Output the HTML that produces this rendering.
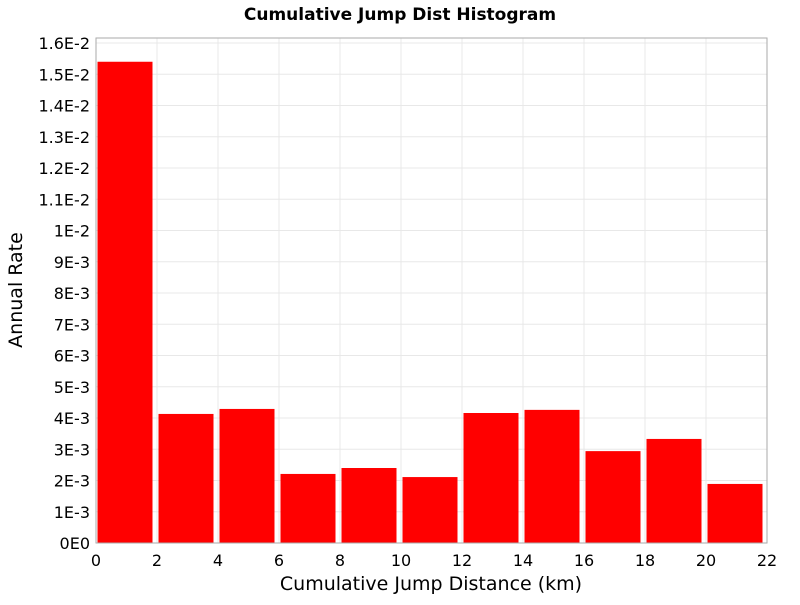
<!DOCTYPE html>
<html><head><meta charset="utf-8"><style>
body{margin:0;background:#fff;font-family:"Liberation Sans","DejaVu Sans",sans-serif}
</style></head><body>
<svg id="chart" width="800" height="600" xmlns="http://www.w3.org/2000/svg" font-family="DejaVu Sans, Liberation Sans, sans-serif">
<text x="400" y="20" text-anchor="middle" font-size="17" font-weight="bold">Cumulative Jump Dist Histogram</text>
<g id="grid"></g>
<g id="bars"></g>
<rect x="96" y="38" width="671" height="505" fill="none" stroke="#aaa"/>
<g id="yticks"></g>
<g id="xticks"></g>
<text x="431" y="590" text-anchor="middle" font-size="19">Cumulative Jump Distance (km)</text>
<text transform="translate(22,290) rotate(-90)" text-anchor="middle" font-size="19">Annual Rate</text>
</svg>
<script>
const binCenters=[1,3,5,7,9,11,13,15,17,19,21];
const rates=[0.0154,0.00413,0.00429,0.00221,0.0024,0.00211,0.00416,0.00426,0.00294,0.00333,0.00189];
const yTickValues=[0,0.001,0.002,0.003,0.004,0.005,0.006,0.007,0.008,0.009,0.01,0.011,0.012,0.013,0.014,0.015,0.016];
const yTickLabels=["0E0","1E-3","2E-3","3E-3","4E-3","5E-3","6E-3","7E-3","8E-3","9E-3","1E-2","1.1E-2","1.2E-2","1.3E-2","1.4E-2","1.5E-2","1.6E-2"];
const xTickValues=[0,2,4,6,8,10,12,14,16,18,20,22];
const binWidth=2;
const NS="http://www.w3.org/2000/svg";
const L=96,R=767,B=543,T=43;
const xs=v=>L+(v/22)*(R-L);
const ys=v=>B-(v/0.016)*(B-T);
const grid=document.getElementById('grid'),bars=document.getElementById('bars'),yt=document.getElementById('yticks'),xt=document.getElementById('xticks');
function mk(tag,attrs,parent){const e=document.createElementNS(NS,tag);for(const k in attrs)e.setAttribute(k,attrs[k]);parent.appendChild(e);return e;}
yTickValues.forEach((v,i)=>{
  const y=ys(v);
  const g=mk('line',{x1:L,x2:R,y1:y,y2:y,stroke:'#e8e8e8'},grid);
  
  
  const t=mk('text',{x:L-6,y:y+6,'text-anchor':'end','font-size':16},yt);
  t.textContent=yTickLabels[i];
  
  
});
xTickValues.forEach(v=>{
  const x=xs(v);
  const g=mk('line',{x1:x,x2:x,y1:38,y2:B,stroke:'#e8e8e8'},grid);
  
  
  const t=mk('text',{x:x,y:B+23,'text-anchor':'middle','font-size':16},xt);
  t.textContent=String(v);
  
  
});
binCenters.forEach((c,i)=>{
  const x0=xs(c-binWidth/2)+1.5,x1=xs(c+binWidth/2)-4.5;
  const r=mk('rect',{x:x0,y:ys(rates[i]),width:x1-x0,height:B-ys(rates[i]),fill:'#ff0000'},bars);
  
  
});
</script>
</body></html>
